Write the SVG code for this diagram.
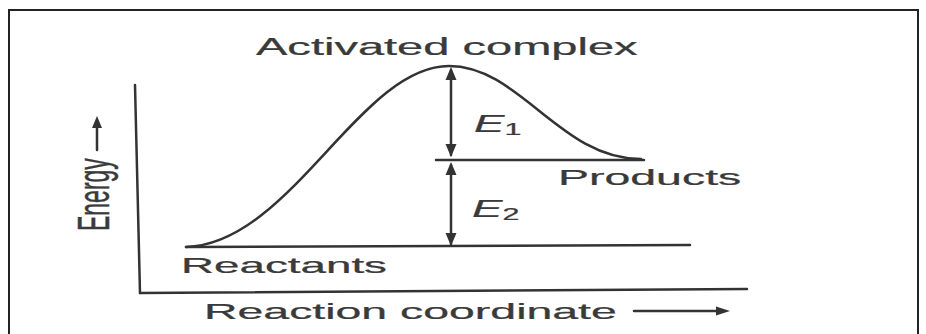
<svg xmlns="http://www.w3.org/2000/svg" width="926" height="334" viewBox="0 0 926 334">
  <style>
    .ln { stroke: #333; stroke-width: 2.5; fill: none; stroke-linecap: round; }
    .frame { stroke: #222; stroke-width: 2; fill: none; }
    .t { font-family: "Liberation Sans", Arial, sans-serif; fill: #3a3a3a; stroke: #3a3a3a; stroke-width: 0.25; }
    .ah { fill: #333; }
  </style>
  <rect width="926" height="334" fill="#fff"/>
  <g id="frame">
    <polyline class="frame" points="9,334 9,10 918,10 918,334"/>
  </g>
  <g id="axes">
    <line class="ln" x1="135" y1="85" x2="140" y2="293"/>
    <line class="ln" x1="140" y1="293" x2="747" y2="289"/>
  </g>
  <g id="energy-label">
    <text class="t" font-size="23" transform="translate(109,231) scale(1.9,1) rotate(-90)">Energy</text>
    <line class="ln" x1="97" y1="150" x2="97" y2="126"/>
    <polygon class="ah" points="97,116 102,128 92,128"/>
  </g>
  <g id="reaction-coordinate">
    <text class="t" font-size="22" transform="translate(204,319) scale(2.11,1)">Reaction coordinate</text>
    <line class="ln" x1="634" y1="311" x2="718" y2="311"/>
    <polygon class="ah" points="730,311 716,306.5 716,315.5"/>
  </g>
  <g id="connectors">
    <path class="ln" d="M186,247 C290,244 360,66 449,66 C520,66 560,159 641,159"/>
    <line class="ln" x1="186" y1="247" x2="690" y2="245"/>
    <line class="ln" x1="436" y1="160" x2="644" y2="160"/>
    <line class="ln" x1="451" y1="70" x2="451" y2="155"/>
    <polygon class="ah" points="451,67 456.5,80 445.5,80"/>
    <polygon class="ah" points="451,157 456.5,144 445.5,144"/>
    <line class="ln" x1="451" y1="165" x2="451" y2="244"/>
    <polygon class="ah" points="451,162 456.5,175 445.5,175"/>
    <polygon class="ah" points="451,246 456.5,233 445.5,233"/>
  </g>
  <g id="activated-complex">
    <text class="t" font-size="24" transform="translate(256,55) scale(1.96,1)">Activated complex</text>
  </g>
  <g id="products">
    <text class="t" font-size="23" transform="translate(558,185) scale(2.02,1)">Products</text>
  </g>
  <g id="reactants">
    <text class="t" font-size="22" transform="translate(181,273) scale(2.08,1)">Reactants</text>
  </g>
  <g id="E1">
    <text class="t" font-size="24" transform="translate(474,132) scale(1.9,1)"><tspan font-style="italic">E</tspan><tspan font-size="16" dy="3">1</tspan></text>
  </g>
  <g id="E2">
    <text class="t" font-size="24" transform="translate(472,217) scale(1.9,1)"><tspan font-style="italic">E</tspan><tspan font-size="16" dy="3">2</tspan></text>
  </g>
</svg>
